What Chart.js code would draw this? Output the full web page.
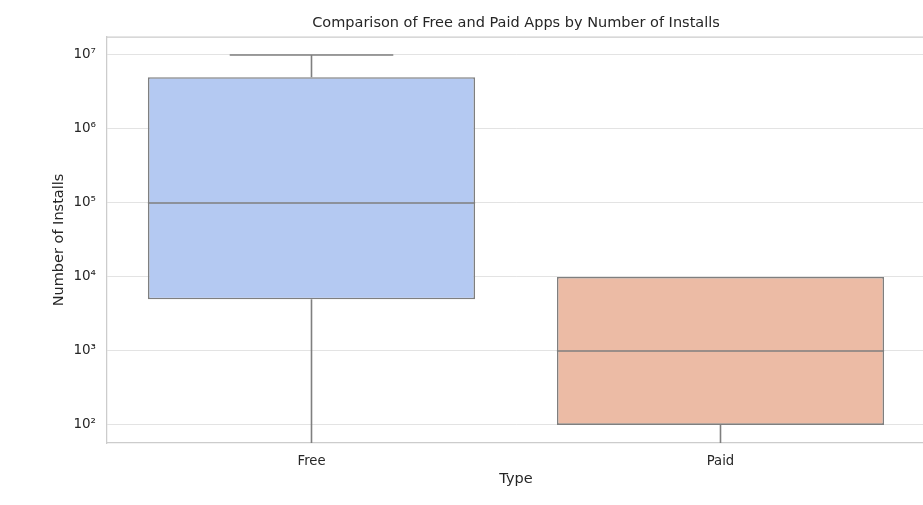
<!DOCTYPE html>
<html lang="en">
<head>
<meta charset="UTF-8">
<title>Free vs Paid Apps</title>
<style>
    html, body { margin: 0; padding: 0; overflow: hidden; background: #ffffff; }
    #wrap { width: 927px; height: 505px; position: relative; }
</style>
</head>
<body>
<div id="wrap"><canvas id="boxChart"></canvas></div>

<script src="https://cdn.jsdelivr.net/npm/chart.js"></script>
<script>
    // data (installs, log scale)
    const types = ['Free', 'Paid'];
    const whiskerLow = [1, 1];          // below the visible range
    const q1 = [5000, 100];
    const medians = [100000, 1000];
    const q3 = [5000000, 10000];
    const whiskerHigh = [10000000, 10000];
    const fills = ['#b4c9f2', '#ecbba5'];
    const yTicks = [1e2, 1e3, 1e4, 1e5, 1e6, 1e7];
    const yTickLabels = ['10²', '10³', '10⁴', '10⁵', '10⁶', '10⁷'];
    const chartTitle = 'Comparison of Free and Paid Apps by Number of Installs';

    const lineColor = '#7f7f7f';
    const textColor = '#262626';
    const fontFamily = '"DejaVu Sans", sans-serif';

    // whiskers, caps, medians, the top frame line and the title (centred on the plot)
    const boxExtras = {
        id: 'boxExtras',
        afterDatasetsDraw(chart) {
            const ctx = chart.ctx;
            const area = chart.chartArea;
            const x = chart.scales.x;
            const y = chart.scales.y;
            const meta = chart.getDatasetMeta(0);

            ctx.save();
            ctx.beginPath();
            ctx.rect(area.left, area.top, area.right - area.left, area.bottom - area.top);
            ctx.clip();
            ctx.strokeStyle = lineColor;
            ctx.lineWidth = 1.6;

            types.forEach((t, i) => {
                const bar = meta.data[i];
                const cx = x.getPixelForValue(i);
                const half = bar.width / 2;
                const yMed = y.getPixelForValue(medians[i]);
                const yQ1 = y.getPixelForValue(q1[i]);
                const yQ3 = y.getPixelForValue(q3[i]);
                const yLo = y.getPixelForValue(whiskerLow[i]);
                const yHi = y.getPixelForValue(whiskerHigh[i]);

                ctx.beginPath();
                ctx.moveTo(cx - half, yMed);
                ctx.lineTo(cx + half, yMed);
                // lower whisker + cap
                ctx.moveTo(cx, yQ1);
                ctx.lineTo(cx, yLo);
                ctx.moveTo(cx - half / 2, yLo);
                ctx.lineTo(cx + half / 2, yLo);
                // upper whisker + cap
                if (whiskerHigh[i] > q3[i]) {
                    ctx.moveTo(cx, yQ3);
                    ctx.lineTo(cx, yHi);
                    ctx.moveTo(cx - half / 2, yHi);
                    ctx.lineTo(cx + half / 2, yHi);
                }
                ctx.stroke();
            });
            ctx.restore();

            ctx.save();
            ctx.strokeStyle = '#cccccc';
            ctx.lineWidth = 1.25;
            ctx.beginPath();
            ctx.moveTo(area.left, area.top);
            ctx.lineTo(area.right, area.top);
            ctx.lineTo(area.right, area.bottom);
            ctx.stroke();

            ctx.fillStyle = textColor;
            ctx.font = '14.5px ' + fontFamily;
            ctx.textAlign = 'center';
            ctx.textBaseline = 'middle';
            ctx.fillText(chartTitle, (area.left + area.right) / 2, 23);
            ctx.restore();
        }
    };

    new Chart(document.getElementById('boxChart'), {
        type: 'bar',
        data: {
            labels: types,
            datasets: [{
                data: types.map((t, i) => [q1[i], q3[i]]),
                backgroundColor: fills,
                borderColor: lineColor,
                borderWidth: 1.6,
                borderSkipped: false,
                categoryPercentage: 0.8,
                barPercentage: 1.0
            }]
        },
        options: {
            responsive: true,
            maintainAspectRatio: false,
            animation: false,
            layout: { padding: { left: 0, right: 2, top: 37, bottom: 0 } },
            plugins: {
                legend: { display: false },
                tooltip: { enabled: false },
                title: { display: false }
            },
            scales: {
                x: {
                    grid: { display: false, drawTicks: false },
                    border: { display: true, color: '#cccccc', width: 1.25 },
                    ticks: {
                        color: textColor,
                        font: { family: fontFamily, size: 13.2 },
                        padding: 11
                    },
                    title: {
                        display: true,
                        text: 'Type',
                        color: textColor,
                        font: { family: fontFamily, size: 14.5 },
                        padding: { top: 0, bottom: 17 }
                    },
                    afterFit(scale) { scale.height = 62; }
                },
                y: {
                    type: 'logarithmic',
                    min: 57,
                    max: 1.75e7,
                    grid: { color: '#e3e3e3', lineWidth: 1, drawTicks: false },
                    border: { display: true, color: '#cccccc', width: 1.25 },
                    afterBuildTicks(scale) {
                        scale.ticks = yTicks.map(v => ({ value: v }));
                    },
                    ticks: {
                        color: textColor,
                        font: { family: fontFamily, size: 13.5 },
                        padding: 11,
                        autoSkip: false,
                        callback(value) {
                            const k = yTicks.indexOf(value);
                            return k >= 0 ? yTickLabels[k] : '';
                        }
                    },
                    title: {
                        display: true,
                        text: 'Number of Installs',
                        color: textColor,
                        font: { family: fontFamily, size: 14.5 },
                        padding: { top: 51, bottom: 0 }
                    },
                    afterFit(scale) { scale.width = 107; }
                }
            }
        },
        plugins: [boxExtras]
    });
</script>
</body>
</html>
